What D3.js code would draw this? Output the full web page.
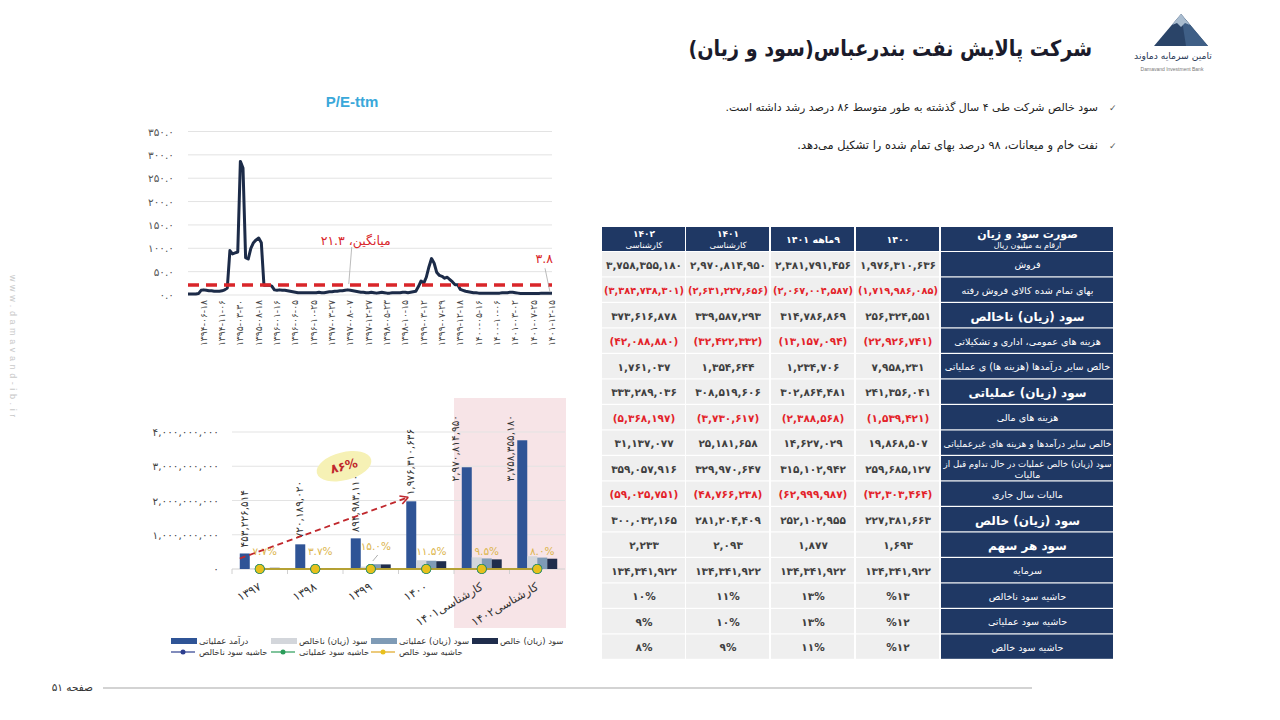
<!DOCTYPE html>
<html><head><meta charset="utf-8">
<script src="https://cdn.jsdelivr.net/npm/d3@7"></script>
<style>
html,body{margin:0;padding:0;background:#fff;}
svg{display:block;font-family:"DejaVu Sans",sans-serif;}
</style></head><body>
<svg id="c" width="1280" height="720"></svg>
<script>
// ---------------- DATA ----------------
const titleText = "شرکت پالایش نفت بندرعباس(سود و زیان)";
const bullets = [
  "سود خالص شرکت طی ۴ سال گذشته به طور متوسط ۸۶ درصد رشد داشته است.",
  "نفت خام و میعانات، ۹۸ درصد بهای تمام شده را تشکیل می‌دهد."
];

// P/E-ttm chart
const peTitle = "P/E-ttm";
const peDates = ["1394-06-18","1394-11-06","1395-03-30","1395-08-18","1396-01-16","1396-06-05","1396-10-25","1397-03-27","1397-08-07","1397-12-27","1398-05-23","1398-10-15","1399-03-12","1399-07-29","1399-12-18","1400-05-16","1400-10-06","1401-03-02","1401-07-25","1401-12-15"];
const peValues = [2,2,2,2,3,10,11,10,9,9,
  8,8,8,9,11,15,95,88,90,92,
  286,272,80,77,100,112,118,122,112,21,
  21,21,19,11,10,11,10,10,9,8,
  7,6,5,5,5,5,5,5,5,5,
  6,5,5,6,7,7,8,8,9,9,
  10,11,10,9,8,7,6,6,5,5,
  6,5,4,5,6,5,4,4,5,5,
  5,5,6,6,5,6,7,8,18,30,
  25,38,60,78,68,48,42,40,36,38,
  33,28,22,22,12,10,8,7,6,5,
  5,4,4,4,4,4,4,4,4,4,
  5,5,5,6,6,5,4,3,3,3,
  3,3,3,3,3,4,4,4,4,3.8];
const peMean = 21.3;
const peLast = 3.8;
const peTicks = [0,50,100,150,200,250,300,350];
const peMeanLabel = "میانگین، ";

// Bar chart
const barCategories = ["1397","1398","1399","1400","کارشناسی1401","کارشناسی1402"];
const revenue         = [453226514, 720189020, 894983110, 1976310636, 2970814950, 3758355180];
const grossProfit     = [12000000, 18000000, 70000000, 256324551, 339587293, 373616878];
const operatingProfit = [30000000, 20000000, 140000000, 241356041, 308519606, 333289036];
const netProfit       = [34900000, 26600000, 134200000, 227381663, 281204409, 300032165];
const grossMargin     = [0.026, 0.025, 0.078, 0.13, 0.114, 0.099];
const operatingMargin = [0.066, 0.028, 0.156, 0.122, 0.104, 0.089];
const netMargin       = [0.077, 0.037, 0.150, 0.115, 0.095, 0.080];
const barTicks = [0, 1e9, 2e9, 3e9, 4e9];
const growthLabel = "86%";
const forecastFrom = 4;
const barSeriesNames = ["درآمد عملیاتی","سود (زیان) ناخالص","سود (زیان) عملیاتی","سود (زیان) خالص"];
const lineSeriesNames = ["حاشیه سود ناخالص","حاشیه سود عملیاتی","حاشیه سود خالص"];

// Table
const tableTitle = "صورت سود و زیان";
const tableSubtitle = "ارقام به میلیون ریال";
const tableHeaders = [["1402","کارشناسی"],["1401","کارشناسی"],["9ماهه 1401"],["1400"]];
const tableRowLabels = [
  "فروش",
  "بهای تمام شده کالای فروش رفته",
  "سود (زیان) ناخالص",
  "هزینه های عمومی، اداری و تشکیلاتی",
  "خالص سایر درآمدها (هزینه ها) ی عملیاتی",
  "سود (زیان) عملیاتی",
  "هزینه های مالی",
  "خالص سایر درآمدها و هزینه های غیرعملیاتی",
  "سود (زیان) خالص عملیات در حال تداوم قبل از|مالیات",
  "مالیات سال جاری",
  "سود (زیان) خالص",
  "سود هر سهم",
  "سرمایه",
  "حاشیه سود ناخالص",
  "حاشیه سود عملیاتی",
  "حاشیه سود خالص"
];
const boldRows = [2, 5, 10, 11];
const percentRows = [13, 14, 15];
const col1402 = [3758355180,-3384738301,373616878,-42088880,1761037,333289036,-5368197,31137077,359057916,-59025751,300032165,2233,134341922,10,9,8];
const col1401 = [2970814950,-2631227656,339587293,-32422332,1354644,308519606,-3730617,25181658,329970647,-48766238,281204409,2093,134341922,11,10,9];
const col9m1401 = [2381791456,-2067004587,314786869,-13157094,1234706,302864481,-2388568,14627029,315102942,-62999987,252102955,1877,134341922,13,13,11];
const col1400 = [1976310636,-1719986085,256324551,-22926741,7958231,241356041,-1539421,19868507,259685127,-32303464,227381663,1693,134341922,13,12,12];
const pageLabel = "صفحه 51";
const siteText = "www.damavand-ib.ir";

// ---------------- HELPERS ----------------
const svg = d3.select("#c");
const fa = s => String(s).replace(/[0-9]/g, d => "۰۱۲۳۴۵۶۷۸۹"[+d]);
const R = s => "\u202B" + s + "\u202C";
const LAT = '"Liberation Sans", Arial, sans-serif';
const fit = (sel, maxW) => {
  const n = sel.node(); const w = n.getComputedTextLength();
  if (w > maxW) sel.attr("font-size", parseFloat(sel.attr("font-size")) * maxW / w);
  return sel;
};

svg.append("rect").attr("width",1280).attr("height",720).attr("fill","#fff");

// ---------------- HEADER ----------------
const title = svg.append("text").attr("x",0).attr("y",0).attr("text-anchor","end")
  .attr("font-size",22).attr("font-weight","bold").attr("fill","#1b1b2b").text(R(titleText));
const tw = title.node().getComputedTextLength();
title.attr("transform",`translate(1092,56) scale(${Math.min(1, 404/tw)},1)`);

// logo
const lg = svg.append("g");
lg.append("polygon").attr("points","1181,14 1154,46 1208,46").attr("fill","#2a4468");
lg.append("polygon").attr("points","1181,14 1208,46 1186,46").attr("fill","#3f5f86");
lg.append("polygon").attr("points","1181,14 1172,25 1177,23 1181,27 1185,23 1190,25").attr("fill","#a9bccf");
fit(lg.append("text").attr("x",1173).attr("y",59).attr("text-anchor","middle").attr("font-size",10.5).attr("fill","#1f3553").text(R("تامین سرمایه دماوند")), 78);
lg.append("text").attr("x",1172).attr("y",71).attr("text-anchor","middle").attr("font-size",5).attr("fill","#777").attr("font-family",LAT).text("Damavand Investment Bank");

// bullets
const bulletW = [373, 301];
bullets.forEach((b,i)=>{
  const y = 111 + i*38;
  fit(svg.append("text").attr("x",1098).attr("y",y).attr("text-anchor","end").attr("font-size",11.5).attr("fill","#222").text(R(b)), bulletW[i]);
  svg.append("text").attr("x",1109).attr("y",y).attr("font-size",9).attr("fill","#555").text("✓");
});

// side text
svg.append("text").attr("transform","translate(10,275) rotate(90)").attr("font-size",9)
  .attr("letter-spacing",3.6).attr("fill","#c9c9c9").attr("font-family",LAT).text(siteText);

// footer
svg.append("line").attr("x1",103).attr("x2",1032).attr("y1",688).attr("y2",688).attr("stroke","#c4c4c4").attr("stroke-width",1.5);
svg.append("text").attr("x",93).attr("y",691).attr("text-anchor","end").attr("font-size",10.5).attr("fill","#333").text(R(fa(pageLabel)));

// ---------------- P/E CHART ----------------
const pe = svg.append("g");
pe.append("text").attr("x",352).attr("y",107).attr("text-anchor","middle").attr("font-size",15)
  .attr("font-weight","bold").attr("fill","#3aa8da").attr("font-family",LAT).text(peTitle);
const xPE = d3.scaleLinear().domain([0, peValues.length-1]).range([188, 552]);
const yPE = d3.scaleLinear().domain([0, 350]).range([295, 131.5]);
pe.selectAll("line.g").data(peTicks).join("line").attr("class","g")
  .attr("x1",188).attr("x2",552).attr("y1",d=>yPE(d)).attr("y2",d=>yPE(d))
  .attr("stroke","#e3e3e3").attr("stroke-width",1);
pe.selectAll("text.yt").data(peTicks).join("text").attr("class","yt")
  .attr("x",174).attr("y",d=>yPE(d)+4).attr("text-anchor","end").attr("font-size",10.5).attr("fill","#555")
  .text(d=>fa(d3.format(".1f")(d)));
const labelStep = 7, labelStart = 6;
pe.selectAll("text.xt").data(peDates).join("text").attr("class","xt")
  .attr("transform",(d,i)=>`translate(${xPE(labelStart+i*labelStep)+3},300) rotate(-90)`)
  .attr("text-anchor","end").attr("font-size",9.2).attr("fill","#444").text(d=>fa(d));
pe.append("path").datum(peValues)
  .attr("d", d3.line().x((d,i)=>xPE(i)).y(d=>yPE(d)))
  .attr("fill","none").attr("stroke","#1c2b48").attr("stroke-width",3).attr("stroke-linejoin","round");
pe.append("line").attr("x1",xPE(0)).attr("x2",xPE(peValues.length-1)).attr("y1",yPE(peMean)).attr("y2",yPE(peMean))
  .attr("stroke","#d9262a").attr("stroke-width",3.5).attr("stroke-dasharray","11,7");
// mean label
const mx = xPE(61);
pe.append("line").attr("x1",mx+4).attr("y1",yPE(peMean)-38).attr("x2",mx+1).attr("y2",yPE(peMean)-1).attr("stroke","#aaa").attr("stroke-width",0.8);
pe.append("text").attr("x",mx+8).attr("y",yPE(peMean)-40).attr("text-anchor","middle").attr("font-size",12.5).attr("fill","#d9262a")
  .text(R(peMeanLabel + fa(peMean.toFixed(1)))); 
const lx = xPE(peValues.length-1);
pe.append("line").attr("x1",lx-7).attr("y1",yPE(peLast)-25).attr("x2",lx-2).attr("y2",yPE(peLast)-1).attr("stroke","#aaa").attr("stroke-width",0.8);
pe.append("text").attr("x",lx+1).attr("y",yPE(peLast)-30).attr("text-anchor","end").attr("font-size",12.5).attr("fill","#d9262a")
  .text(fa(peLast.toFixed(1)));

// ---------------- BAR CHART ----------------
const bc = svg.append("g");
const x0 = d3.scaleBand().domain(barCategories).range([232, 565]).paddingInner(0.28).paddingOuter(0.14);
const x1 = d3.scaleBand().domain([0,1,2,3]).range([0, x0.bandwidth()]);
const yB = d3.scaleLinear().domain([0, 4e9]).range([569, 432]);
const gapHalf = x0.step()*x0.paddingInner()/2;
// forecast shading
const shadeX = x0(barCategories[forecastFrom]) - gapHalf;
bc.append("rect").attr("x", shadeX).attr("y",398).attr("width", 566 - shadeX).attr("height",230).attr("fill","#f7e4e7");
bc.selectAll("line.g").data(barTicks.slice(1)).join("line").attr("class","g")
  .attr("x1",232).attr("x2",565).attr("y1",d=>yB(d)).attr("y2",d=>yB(d)).attr("stroke","#e3e3e3");
bc.append("line").attr("x1",232).attr("x2",565).attr("y1",yB(0)).attr("y2",yB(0)).attr("stroke","#d0d0d0");
bc.selectAll("line.tk").data(barCategories).join("line").attr("class","tk")
  .attr("x1",d=>x0(d)-gapHalf).attr("x2",d=>x0(d)-gapHalf)
  .attr("y1",yB(0)).attr("y2",yB(0)+5).attr("stroke","#d0d0d0");
bc.selectAll("text.yt").data(barTicks).join("text").attr("class","yt")
  .attr("x",219).attr("y",d=>yB(d)+4).attr("text-anchor","end").attr("font-size",10.5).attr("fill","#444")
  .text(d=>fa(d3.format(",")(d)));
const series = [revenue, grossProfit, operatingProfit, netProfit];
const barColors = ["#2f5496","#d3d6db","#7f9bb6","#1f2d4c"];
series.forEach((s,si)=>{
  bc.selectAll("rect.s"+si).data(s).join("rect").attr("class","s"+si)
    .attr("x",(d,i)=>x0(barCategories[i])+x1(si)).attr("width",x1.bandwidth())
    .attr("y",d=>yB(d)).attr("height",d=>yB(0)-yB(d)).attr("fill",barColors[si]);
});
// revenue labels
revenue.forEach((v,i)=>{
  const cx = x0(barCategories[i]) + x1(0) + x1.bandwidth()/2;
  const txt = fa(d3.format(",")(v));
  const top = yB(v) - 6;
  const needed = 64;
  let t;
  if (top - needed < 412) {
    t = bc.append("text").attr("transform",`translate(${cx-12},415) rotate(-90)`).attr("text-anchor","end");
  } else {
    t = bc.append("text").attr("transform",`translate(${cx-1},${top}) rotate(-90)`).attr("text-anchor","start");
  }
  t.attr("dominant-baseline","central").attr("font-size",10.5).attr("fill","#333").text(txt);
});
// margin lines
const marginSeries = [grossMargin, operatingMargin, netMargin];
const lineColors = ["#2c3e8f","#2a9d5a","#e0a722"];
const mkFill = ["#2c3e8f","#2a9d5a","#e8c01c"];
const cxOf = i => x0(barCategories[i]) + x0.bandwidth()/2;
marginSeries.forEach((s,si)=>{
  bc.append("path").datum(s).attr("d", d3.line().x((d,i)=>cxOf(i)).y(d=>yB(d)))
    .attr("fill","none").attr("stroke",lineColors[si]).attr("stroke-width",1.5);
});
marginSeries.forEach((s,si)=>{
  bc.selectAll("circle.m"+si).data(s).join("circle").attr("class","m"+si)
    .attr("cx",(d,i)=>cxOf(i)).attr("cy",d=>yB(d))
    .attr("r", si===2 ? 4.2 : 5).attr("fill",mkFill[si]);
});
// net margin labels
netMargin.forEach((v,i)=>{
  const cx = cxOf(i);
  const lift = i===2 ? 19 : 14;
  bc.append("text").attr("x",cx+5).attr("y",yB(v)-lift).attr("text-anchor","middle").attr("font-size",10.5)
    .attr("fill","#dcb54c").text(fa(d3.format(".1f")(v*100)) + "%");
  if (i===2) bc.append("line").attr("x1",cx+7).attr("y1",yB(v)-14).attr("x2",cx+2).attr("y2",yB(v)-8).attr("stroke","#999").attr("stroke-width",0.8);
});
// x labels
bc.selectAll("text.xt").data(barCategories).join("text").attr("class","xt")
  .attr("transform",d=>`translate(${x0(d)+x0.bandwidth()/2+2},589) rotate(-30)`)
  .attr("text-anchor","end").attr("font-size",11.5).attr("fill","#333").text(d=>R(fa(d)));
// growth arrow
const ax1 = x0(barCategories[0]), ay1 = yB(revenue[0]) + 5;
const ax2 = x0(barCategories[3]) + 2, ay2 = yB(revenue[3]) - 4;
bc.append("line").attr("x1",ax1).attr("y1",ay1).attr("x2",ax2).attr("y2",ay2)
  .attr("stroke","#c0282d").attr("stroke-width",1.8).attr("stroke-dasharray","6,4");
const ang = Math.atan2(ay2-ay1, ax2-ax1);
[0.5,-0.5].forEach(o=>{
  bc.append("line").attr("x1",ax2).attr("y1",ay2)
    .attr("x2",ax2-9*Math.cos(ang+o)).attr("y2",ay2-9*Math.sin(ang+o))
    .attr("stroke","#c0282d").attr("stroke-width",1.6);
});
const ex = (cxOf(1)+cxOf(2))/2 + 1, ey = yB(3e9);
bc.append("ellipse").attr("cx",ex).attr("cy",ey).attr("rx",28).attr("ry",14)
  .attr("transform",`rotate(-14,${ex},${ey})`).attr("fill","#f6f1b5");
bc.append("text").attr("x",ex).attr("y",ey+4).attr("text-anchor","middle").attr("font-size",12.5).attr("font-weight","bold")
  .attr("fill","#c0282d").attr("transform",`rotate(-14,${ex},${ey})`).text(fa(growthLabel));
// legend
const lgX = [171, 271, 371, 472];
barSeriesNames.forEach((n,i)=>{
  bc.append("rect").attr("x",lgX[i]).attr("y",638).attr("width",26).attr("height",6).attr("fill",barColors[i]);
  bc.append("text").attr("x",lgX[i]+28).attr("y",644).attr("font-size",8.5).attr("fill","#333").text(R(n));
});
const lg2X = [171, 271, 371];
lineSeriesNames.forEach((n,i)=>{
  bc.append("line").attr("x1",lg2X[i]).attr("x2",lg2X[i]+24).attr("y1",652).attr("y2",652).attr("stroke",lineColors[i]).attr("stroke-width",1.2);
  bc.append("circle").attr("cx",lg2X[i]+12).attr("cy",652).attr("r",2.5).attr("fill",mkFill[i]);
  bc.append("text").attr("x",lg2X[i]+28).attr("y",655).attr("font-size",8.5).attr("fill","#333").text(R(n));
});

// ---------------- TABLE ----------------
const tb = svg.append("g");
const colX = [602, 686, 771, 856], colW = 84, labX = 941, labW = 173;
const hdrY = 227, hdrH = 25, rowY0 = 252, rowH = 25.5;
const navy = "#1f3864";
const cols = [col1402, col1401, col9m1401, col1400];
// header
tb.append("rect").attr("x",labX).attr("y",hdrY).attr("width",labW-1).attr("height",hdrH-1).attr("fill",navy);
tb.append("text").attr("x",labX+labW/2).attr("y",hdrY+11).attr("text-anchor","middle").attr("font-size",11).attr("font-weight","bold").attr("fill","#fff").text(R(tableTitle));
tb.append("text").attr("x",labX+labW/2).attr("y",hdrY+21).attr("text-anchor","middle").attr("font-size",8).attr("fill","#fff").text(R(tableSubtitle));
tableHeaders.forEach((h,ci)=>{
  tb.append("rect").attr("x",colX[ci]).attr("y",hdrY).attr("width",colW-1).attr("height",hdrH-1).attr("fill",navy);
  if (h.length===2) {
    tb.append("text").attr("x",colX[ci]+colW/2).attr("y",hdrY+10).attr("text-anchor","middle").attr("font-size",9).attr("font-weight","bold").attr("fill","#fff").text(fa(h[0]));
    tb.append("text").attr("x",colX[ci]+colW/2).attr("y",hdrY+21).attr("text-anchor","middle").attr("font-size",8.5).attr("fill","#fff").text(R(h[1]));
  } else {
    tb.append("text").attr("x",colX[ci]+colW/2).attr("y",hdrY+16).attr("text-anchor","middle").attr("font-size",9.5).attr("font-weight","bold").attr("fill","#fff").text(R(fa(h[0])));
  }
});
const fmtCell = (v, ri, ci) => {
  if (percentRows.includes(ri)) return ci===3 ? "%" + fa(v) : fa(v) + "%";
  const s = fa(d3.format(",")(Math.abs(v)));
  return v < 0 ? "(" + s + ")" : s;
};
tableRowLabels.forEach((lab, ri)=>{
  const y = rowY0 + ri*rowH;
  tb.append("rect").attr("x",labX).attr("y",y).attr("width",labW-1).attr("height",rowH-1.2).attr("fill",navy);
  const bold = boldRows.includes(ri);
  const parts = lab.split("|");
  if (parts.length===2) {
    fit(tb.append("text").attr("x",labX+labW/2).attr("y",y+11).attr("text-anchor","middle").attr("font-size",9.6).attr("fill","#fff").text(R(parts[0])), 168);
    tb.append("text").attr("x",labX+labW/2).attr("y",y+22).attr("text-anchor","middle").attr("font-size",9.6).attr("fill","#fff").text(R(parts[1]));
  } else {
    fit(tb.append("text").attr("x",labX+labW/2).attr("y",y+rowH/2+(bold?5:3.5)).attr("text-anchor","middle")
      .attr("font-size",bold?12:9.6).attr("font-weight",bold?"bold":"normal").attr("fill","#fff").text(R(lab)), 168);
  }
  cols.forEach((col, ci)=>{
    tb.append("rect").attr("x",colX[ci]).attr("y",y).attr("width",colW-1).attr("height",rowH-1.2).attr("fill","#efefef");
    const v = col[ri];
    fit(tb.append("text").attr("x",colX[ci]+colW/2).attr("y",y+rowH/2+4).attr("text-anchor","middle")
      .attr("font-size",10.5).attr("font-weight","bold").attr("fill", v<0 ? "#e3232a" : "#404040")
      .text(fmtCell(v, ri, ci)), 80);
  });
});
</script></body></html>
